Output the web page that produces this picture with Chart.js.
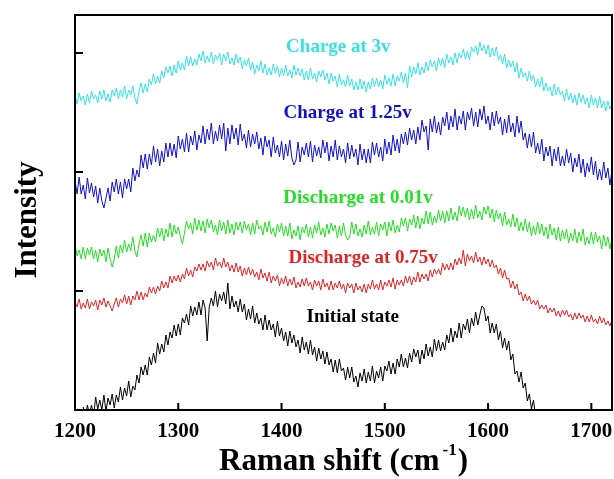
<!DOCTYPE html>
<html>
<head>
<meta charset="utf-8">
<script src="https://cdn.jsdelivr.net/npm/chart.js@4"></script>
<style>
  html, body { margin: 0; padding: 0; background: #fff; }
  #wrap { width: 614px; height: 479px; position: relative; }
</style>
</head>
<body>
<div id="wrap"><canvas id="chart-raman"></canvas></div>
<script>
// Raman shift (cm-1), sampled every 2 cm-1
const wavenumber = [
  1200,1202,1204,1206,1208,1210,1212,1214,1216,1218,1220,1222,1224,1226,1228,1230,1232,1234,1236,1238,
  1240,1242,1244,1246,1248,1250,1252,1254,1256,1258,1260,1262,1264,1266,1268,1270,1272,1274,1276,1278,
  1280,1282,1284,1286,1288,1290,1292,1294,1296,1298,1300,1302,1304,1306,1308,1310,1312,1314,1316,1318,
  1320,1322,1324,1326,1328,1330,1332,1334,1336,1338,1340,1342,1344,1346,1348,1350,1352,1354,1356,1358,
  1360,1362,1364,1366,1368,1370,1372,1374,1376,1378,1380,1382,1384,1386,1388,1390,1392,1394,1396,1398,
  1400,1402,1404,1406,1408,1410,1412,1414,1416,1418,1420,1422,1424,1426,1428,1430,1432,1434,1436,1438,
  1440,1442,1444,1446,1448,1450,1452,1454,1456,1458,1460,1462,1464,1466,1468,1470,1472,1474,1476,1478,
  1480,1482,1484,1486,1488,1490,1492,1494,1496,1498,1500,1502,1504,1506,1508,1510,1512,1514,1516,1518,
  1520,1522,1524,1526,1528,1530,1532,1534,1536,1538,1540,1542,1544,1546,1548,1550,1552,1554,1556,1558,
  1560,1562,1564,1566,1568,1570,1572,1574,1576,1578,1580,1582,1584,1586,1588,1590,1592,1594,1596,1598,
  1600,1602,1604,1606,1608,1610,1612,1614,1616,1618,1620,1622,1624,1626,1628,1630,1632,1634,1636,1638,
  1640,1642,1644,1646,1648,1650,1652,1654,1656,1658,1660,1662,1664,1666,1668,1670,1672,1674,1676,1678,
  1680,1682,1684,1686,1688,1690,1692,1694,1696,1698,1700,1702,1704,1706,1708,1710,1712,1714,1716,1718,
  1720
];

// intensities (stacked, arbitrary units)
const charge3v = [
  315,306,317,309,314,305,316,307,319,311,315,307,319,311,320,309,316,308,320,314,
  322,311,320,313,324,311,320,315,324,312,306,319,327,317,326,318,331,325,336,326,
  334,327,339,332,343,337,344,334,345,337,349,340,347,340,354,344,353,344,351,345,
  356,349,359,347,354,348,358,346,355,350,357,345,356,349,358,346,352,345,356,347,
  353,341,350,344,352,340,348,336,345,339,349,337,346,335,342,335,346,337,344,333,
  342,334,345,334,340,332,345,335,342,334,341,330,339,330,342,331,337,328,339,333,
  340,330,337,326,337,329,334,323,336,325,330,323,335,324,331,320,328,320,331,321,
  329,318,328,321,332,323,332,323,330,321,335,326,332,324,336,324,334,329,338,327,
  337,322,344,333,343,336,347,335,343,337,348,339,350,343,349,339,352,344,352,342,
  356,347,353,345,357,347,357,352,361,351,359,350,363,358,364,355,368,359,365,356,
  365,353,362,354,363,350,355,346,356,342,350,343,349,338,347,332,342,333,337,329,
  339,329,335,323,331,323,333,319,327,319,323,314,326,315,323,315,319,309,321,310,
  317,307,315,305,317,308,315,306,312,302,315,305,312,302,314,302,309,299,309,301,
  306
];
const charge125v = [
  230,216,233,216,225,211,232,217,227,213,224,207,222,209,202,212,222,209,228,218,
  231,216,228,212,231,221,231,218,242,229,240,233,255,242,256,241,256,245,264,248,
  261,244,259,248,267,253,267,254,266,252,274,261,271,258,277,258,274,265,279,260,
  275,267,284,266,281,270,287,266,279,269,285,271,287,259,282,266,285,271,282,265,
  286,269,276,262,280,263,276,266,278,261,272,255,274,263,270,253,273,257,265,253,
  269,250,266,254,270,252,245,250,268,248,263,255,267,253,269,248,265,254,263,252,
  270,257,268,249,264,253,270,250,264,253,261,247,267,251,265,253,261,245,266,250,
  261,247,261,247,268,255,267,253,263,249,271,256,268,255,275,259,271,257,276,266,
  278,265,282,270,280,266,283,270,290,278,284,260,291,278,294,277,288,275,293,284,
  298,280,294,283,301,280,294,286,299,280,298,290,302,284,298,283,301,290,304,286,
  294,280,298,284,299,286,293,275,291,277,295,278,287,273,294,277,289,270,277,262,
  276,263,278,257,267,256,271,249,263,254,264,244,261,249,263,244,254,244,261,247,
  257,238,252,243,256,237,251,233,247,238,253,235,249,230,241,230,248,232,242,225,
  240
];
const discharge001v = [
  166,154,160,151,163,151,162,155,163,151,160,148,161,154,160,148,162,151,143,151,
  164,152,165,157,170,158,166,159,173,159,153,166,175,164,177,163,177,168,175,168,
  182,173,182,169,181,173,187,173,185,176,183,174,166,177,189,181,187,176,192,180,
  190,179,189,177,191,182,190,178,185,175,190,179,188,176,190,177,186,175,188,180,
  188,177,189,180,186,175,187,176,190,181,184,175,188,178,189,176,182,173,186,178,
  187,174,184,174,187,171,180,174,184,170,183,177,186,173,183,172,185,177,188,175,
  182,173,186,176,187,179,185,172,184,174,187,175,170,173,188,176,186,174,181,173,
  185,176,189,175,183,176,188,174,186,180,188,174,188,179,190,177,185,178,192,184,
  192,179,191,185,195,182,194,181,192,186,199,186,198,185,194,187,200,189,199,187,
  199,189,202,190,198,189,204,194,203,193,202,190,201,191,205,192,199,190,203,196,
  204,192,201,188,200,191,197,184,198,185,191,183,196,183,192,179,188,179,191,178,
  188,174,184,175,188,176,186,174,183,171,186,175,182,170,183,169,180,171,181,167,
  177,169,181,167,178,169,181,165,173,166,178,166,178,168,174,161,175,164,173,161,
  172
];
const discharge075v = [
  108,103,111,101,107,102,111,101,108,104,110,100,110,105,112,103,109,104,99,106,
  112,103,111,107,115,106,114,105,114,110,119,110,118,110,117,113,123,117,123,116,
  124,119,129,122,128,122,134,127,134,129,135,128,136,131,142,134,140,133,143,139,
  146,140,146,139,149,143,148,140,152,144,148,142,152,143,148,139,145,138,147,138,
  144,134,142,135,143,135,141,133,138,130,141,132,137,129,138,127,134,129,135,124,
  132,126,134,124,131,125,133,122,128,123,131,124,132,124,128,120,130,124,129,120,
  131,123,127,120,129,120,127,122,129,121,126,117,127,122,126,117,127,120,124,118,
  126,117,126,121,130,121,126,120,130,120,128,124,130,123,132,121,130,125,130,124,
  134,127,134,125,133,128,138,128,136,131,136,129,140,133,141,136,141,135,147,140,
  146,140,147,140,151,145,152,146,160,144,156,149,154,147,158,148,153,145,153,146,
  151,143,150,142,145,136,142,132,140,131,132,122,129,121,126,115,118,109,116,109,
  114,106,110,105,110,101,105,101,105,97,102,98,102,94,99,93,100,95,100,93,
  96,90,97,91,97,92,95,88,94,88,95,88,91,86,94,87,92,85,89,84,
  90
];
const initialState = [
  null,null,null,null,3,-7,5,-5,5,-6,13,1,10,0,15,-1,12,5,16,2,
  15,8,23,10,22,14,29,13,24,20,35,27,43,35,45,35,53,45,57,47,
  67,56,66,58,75,65,78,72,85,74,86,75,92,87,96,85,104,94,103,95,
  108,95,110,102,69,103,112,104,119,103,116,109,118,106,127,101,114,103,109,98,
  111,98,106,90,101,91,104,87,97,86,92,80,95,80,90,80,86,73,89,74,
  82,69,78,64,79,67,75,63,70,57,73,60,68,56,70,55,63,49,62,51,
  59,46,58,45,51,38,50,37,51,39,42,30,43,32,43,28,34,23,37,29,
  41,27,38,29,44,27,39,32,43,29,44,39,49,36,47,36,51,43,56,43,
  52,42,57,48,61,53,60,46,60,51,66,54,63,53,71,59,70,59,68,60,
  75,67,82,68,79,72,87,72,86,80,91,77,92,84,98,85,95,104,102,89,
  94,77,87,77,86,70,79,62,72,60,69,50,56,36,39,28,38,22,27,9,
  16,1,10,-7,-3,-17,-3,null,null,null,null,null,null,null,null,null,null,null,null,null,
  null,null,null,null,null,null,null,null,null,null,null,null,null,null,null,null,null,null,null,null,
  null
];

const seriesNames  = ['Charge at 3v', 'Charge at 1.25v', 'Discharge at 0.01v', 'Discharge at 0.75v', 'Initial state'];
const seriesData   = [charge3v, charge125v, discharge001v, discharge075v, initialState];
const seriesColors = ['#33e3e3', '#1010cc', '#22e022', '#e52222', '#000000'];
const yTickValues  = [0, 119, 238, 357];

// where each curve label sits, in data units
const labelPos = [[1455, 363], [1464, 297], [1474, 212], [1479, 152], [1469, 93]];

const SERIF = '"Liberation Serif", "Times New Roman", serif';

const framePlugin = {
  id: 'frame',
  afterDatasetsDraw(chart) {
    const { ctx, chartArea: a, scales: { x, y } } = chart;
    ctx.save();
    ctx.strokeStyle = '#000';
    ctx.lineWidth = 2;
    ctx.strokeRect(a.left, a.top, a.right - a.left, a.bottom - a.top);
    ctx.beginPath();
    x.ticks.forEach(t => {
      const px = x.getPixelForValue(t.value);
      ctx.moveTo(px, a.bottom); ctx.lineTo(px, a.bottom - 7);
    });
    y.ticks.forEach(t => {
      const py = y.getPixelForValue(t.value);
      ctx.moveTo(a.left, py); ctx.lineTo(a.left + 8, py);
    });
    ctx.stroke();

    // curve labels
    ctx.font = 'bold 19px ' + SERIF;
    ctx.textAlign = 'center';
    ctx.textBaseline = 'middle';
    seriesNames.forEach((name, i) => {
      ctx.fillStyle = seriesColors[i];
      ctx.fillText(name, x.getPixelForValue(labelPos[i][0]), y.getPixelForValue(labelPos[i][1]));
    });

    // axis titles
    ctx.fillStyle = '#000';
    ctx.textBaseline = 'alphabetic';
    const big = 'bold 31px ' + SERIF, small = 'bold 17px ' + SERIF;
    const main = 'Raman shift (cm', sup = '-1', close = ')';
    ctx.font = big; const w1 = ctx.measureText(main).width, w3 = ctx.measureText(close).width;
    ctx.font = small; const w2 = ctx.measureText(sup).width + 4;
    let tx = (a.left + a.right) / 2 - (w1 + w2 + w3) / 2;
    const base = 470;
    ctx.textAlign = 'left';
    ctx.font = big;  ctx.fillText(main, tx, base); tx += w1 + 3;
    ctx.font = small; ctx.fillText(sup, tx, base - 15); tx += w2 - 3;
    ctx.font = big;  ctx.fillText(close, tx, base);

    ctx.translate(36, 220);
    ctx.rotate(-Math.PI / 2);
    ctx.textAlign = 'center';
    ctx.font = big;
    ctx.fillText('Intensity', 0, 0);
    ctx.restore();
  }
};

new Chart(document.getElementById('chart-raman'), {
  type: 'line',
  data: {
    datasets: seriesData.map((d, i) => ({
      label: seriesNames[i],
      data: wavenumber.map((w, j) => ({ x: w, y: d[j] })),
      borderColor: seriesColors[i],
      borderWidth: 1,
      pointRadius: 0,
      tension: 0,
      fill: false
    }))
  },
  options: {
    responsive: true,
    maintainAspectRatio: false,
    animation: false,
    layout: { padding: { top: 15, right: 2, left: 0, bottom: 0 } },
    plugins: { legend: { display: false }, tooltip: { enabled: false } },
    scales: {
      x: {
        type: 'linear', min: 1200, max: 1720,
        grid: { display: false, drawTicks: false },
        border: { display: false },
        ticks: {
          stepSize: 100, includeBounds: false, padding: 9, color: '#000',
          font: { family: SERIF, weight: 'bold', size: 21 },
          callback: v => String(v)
        },
        afterFit(s) { s.height = 69; s.paddingLeft = 0; s.paddingRight = 0; }
      },
      y: {
        min: 0, max: 395,
        grid: { display: false, drawTicks: false },
        border: { display: false },
        ticks: { display: false },
        afterBuildTicks(s) { s.ticks = yTickValues.map(v => ({ value: v })); },
        afterFit(s) { s.width = 75; }
      }
    }
  },
  plugins: [framePlugin]
});
</script>
</body>
</html>
